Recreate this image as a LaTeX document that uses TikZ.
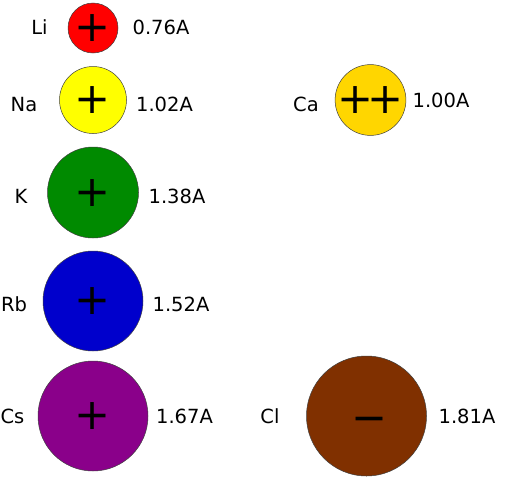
\documentclass[tikz,border=0pt]{standalone}
\usepackage{fontspec}
\setmainfont{DejaVu Sans}
\definecolor{ionLi}{RGB}{255,0,0}
\definecolor{ionNa}{RGB}{255,255,0}
\definecolor{ionK}{RGB}{0,138,0}
\definecolor{ionRb}{RGB}{0,0,204}
\definecolor{ionCs}{RGB}{138,0,138}
\definecolor{ionCa}{RGB}{255,214,0}
\definecolor{ionCl}{RGB}{128,48,0}

\begin{document}
\begin{tikzpicture}[x=1pt,y=-1pt,
  ion/.style={circle,draw=black!75,line width=0.5pt,inner sep=0pt,font=\fontsize{43}{43}\selectfont,text height=27pt,text depth=0pt},
  sign/.style={inner sep=0pt,font=\fontsize{43}{43}\selectfont,text height=27pt,text depth=0pt},
  lbl/.style={anchor=base,font=\fontsize{19.5}{20}\selectfont}]
\useasboundingbox (0,0) rectangle (513,479);
\foreach \n/\cx/\cy/\r in {Li/93/28/25,Na/93/100/33.5,K/93/192.5/45.5,Rb/93/301/50,Cs/93/416/55} {\node[ion,fill=ion\n,minimum size=2*\r] (\n) at (\cx,\cy) {+};}
\node[ion,fill=ionCa,minimum size=65] (Ca) at (370.5,100) {+\kern-6.5pt+};
\node[ion,fill=ionCl,minimum size=120] (Cl) at (366.5,416) {};
\node[sign] (Cl-sign) at (369.5,419) {−};
\foreach \n/\lx/\vx/\by/\v in {Li/39.5/161/34/0.76A,Na/24/164.5/111/1.02A,K/21/177/203/1.38A,Rb/14/181/311/1.52A,Cs/12.5/184.5/423/1.67A,Cl/270/467/423/1.81A} {\node[lbl] (\n-name) at (\lx,\by) {\n};\node[lbl] (\n-size) at (\vx,\by) {\v};}
\node[lbl] (Ca-name) at (306,111) {Ca};
\node[lbl] (Ca-size) at (441,107) {1.00A};
\end{tikzpicture}
\end{document}
